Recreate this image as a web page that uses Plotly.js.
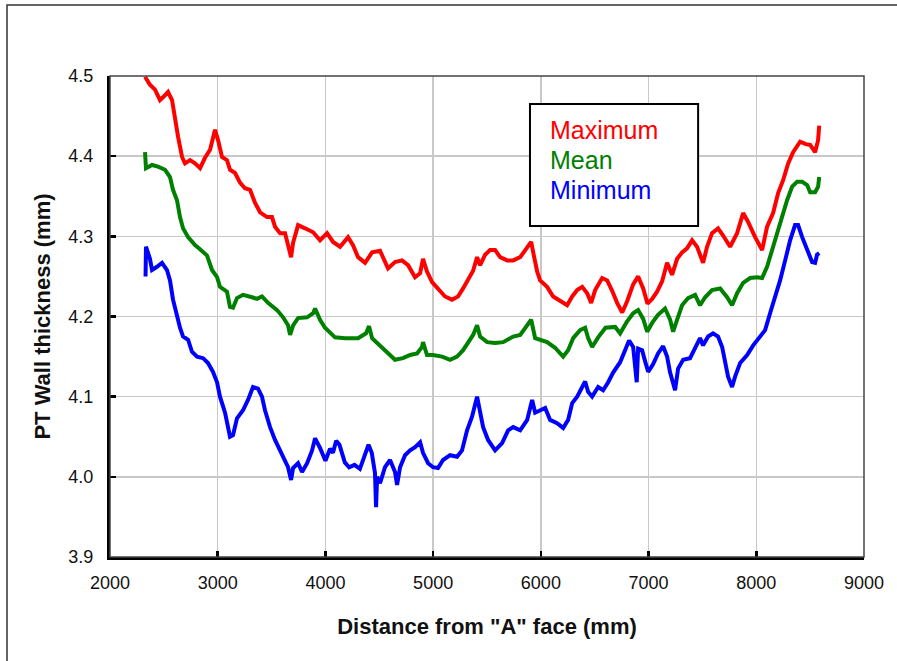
<!DOCTYPE html>
<html>
<head>
<meta charset="utf-8">
<script src="https://cdn.plot.ly/plotly-3.0.1.min.js"></script>
<style>
  html, body { margin: 0; padding: 0; background: #ffffff; }
  #chart { width: 897px; height: 661px; }
</style>
</head>
<body>
<div id="chart"></div>
<script>
// Pressure-tube wall thickness profile along the tube (mm)
const seriesNames = ["Maximum", "Mean", "Minimum"];
const seriesColors = ["#ff0000", "#008000", "#0000ff"];

const maxX = [2325, 2371, 2418, 2464, 2511, 2539, 2576, 2604, 2632, 2669, 2696, 2743, 2789, 2836, 2882, 2929, 2975, 3003, 3040, 3086,
  3114, 3161, 3207, 3253, 3300, 3346, 3393, 3458, 3504, 3532, 3579, 3625, 3643, 3681, 3700, 3746, 3811, 3886, 3950, 4015,
  4071, 4136, 4210, 4256, 4303, 4368, 4433, 4507, 4581, 4646, 4711, 4767, 4832, 4879, 4906, 4943, 4990, 5045, 5110, 5175,
  5231, 5278, 5324, 5371, 5408, 5436, 5482, 5529, 5575, 5622, 5687, 5743, 5808, 5873, 5910, 5938, 5966, 5993, 6058, 6114,
  6179, 6244, 6291, 6337, 6384, 6430, 6467, 6504, 6569, 6616, 6662, 6708, 6755, 6801, 6857, 6903, 6950, 6990, 7033, 7079,
  7126, 7172, 7218, 7265, 7311, 7357, 7404, 7450, 7506, 7543, 7589, 7645, 7692, 7757, 7822, 7878, 7924, 7989, 8054, 8100,
  8156, 8203, 8249, 8296, 8342, 8407, 8460, 8500, 8546, 8574, 8584];
const maxY = [4.499, 4.489, 4.483, 4.470, 4.476, 4.480, 4.470, 4.445, 4.424, 4.399, 4.391, 4.395, 4.391, 4.385, 4.398, 4.408, 4.433, 4.420, 4.399, 4.395,
  4.383, 4.379, 4.367, 4.360, 4.358, 4.342, 4.330, 4.324, 4.324, 4.312, 4.304, 4.304, 4.295, 4.274, 4.292, 4.314, 4.310, 4.305, 4.295, 4.304,
  4.293, 4.287, 4.299, 4.289, 4.274, 4.267, 4.280, 4.282, 4.260, 4.268, 4.270, 4.264, 4.249, 4.254, 4.272, 4.256, 4.243, 4.235, 4.225, 4.221,
  4.225, 4.235, 4.245, 4.257, 4.274, 4.264, 4.277, 4.283, 4.283, 4.274, 4.270, 4.270, 4.274, 4.285, 4.293, 4.274, 4.256, 4.245, 4.237, 4.225,
  4.219, 4.214, 4.225, 4.233, 4.237, 4.229, 4.217, 4.233, 4.248, 4.245, 4.232, 4.217, 4.205, 4.219, 4.240, 4.250, 4.235, 4.216, 4.222, 4.231,
  4.244, 4.267, 4.252, 4.272, 4.280, 4.285, 4.295, 4.287, 4.267, 4.287, 4.304, 4.310, 4.301, 4.287, 4.304, 4.329, 4.318, 4.299, 4.283, 4.312,
  4.329, 4.354, 4.370, 4.391, 4.405, 4.418, 4.415, 4.414, 4.405, 4.420, 4.438];

const meanX = [2325, 2334, 2390, 2446, 2511, 2557, 2585, 2622, 2650, 2678, 2725, 2789, 2836, 2901, 2947, 2994, 3021, 3086, 3114, 3142,
  3179, 3235, 3319, 3365, 3411, 3467, 3551, 3607, 3653, 3672, 3700, 3746, 3830, 3886, 3904, 3950, 3996, 4089, 4182, 4303,
  4377, 4405, 4433, 4507, 4581, 4646, 4720, 4786, 4851, 4897, 4906, 4943, 4999, 5083, 5157, 5222, 5278, 5324, 5371, 5408,
  5436, 5501, 5575, 5650, 5743, 5808, 5873, 5910, 5947, 5993, 6058, 6132, 6207, 6253, 6300, 6364, 6411, 6439, 6476, 6532,
  6600, 6690, 6736, 6801, 6857, 6903, 6950, 6987, 7033, 7088, 7153, 7200, 7228, 7265, 7311, 7367, 7432, 7478, 7525, 7589,
  7664, 7729, 7775, 7822, 7878, 7943, 8008, 8054, 8100, 8147, 8193, 8240, 8286, 8333, 8379, 8426, 8472, 8500, 8546, 8574, 8584];
const meanY = [4.405, 4.385, 4.389, 4.387, 4.383, 4.374, 4.358, 4.345, 4.324, 4.310, 4.299, 4.289, 4.284, 4.276, 4.258, 4.249, 4.237, 4.231, 4.212, 4.211,
  4.223, 4.227, 4.224, 4.222, 4.225, 4.217, 4.208, 4.199, 4.189, 4.177, 4.189, 4.198, 4.199, 4.204, 4.210, 4.196, 4.186, 4.174, 4.173, 4.173,
  4.179, 4.188, 4.173, 4.164, 4.154, 4.146, 4.148, 4.152, 4.154, 4.162, 4.168, 4.152, 4.152, 4.150, 4.146, 4.150, 4.158, 4.167, 4.177, 4.189,
  4.175, 4.168, 4.167, 4.168, 4.175, 4.177, 4.189, 4.196, 4.173, 4.171, 4.168, 4.161, 4.150, 4.158, 4.173, 4.183, 4.186, 4.173, 4.162, 4.174,
  4.186, 4.187, 4.179, 4.194, 4.204, 4.208, 4.197, 4.181, 4.192, 4.202, 4.210, 4.196, 4.181, 4.196, 4.214, 4.223, 4.227, 4.214, 4.224, 4.233,
  4.235, 4.224, 4.214, 4.229, 4.242, 4.248, 4.249, 4.248, 4.262, 4.283, 4.305, 4.327, 4.345, 4.362, 4.368, 4.368, 4.364, 4.355, 4.355, 4.362, 4.374];

const minX = [2330, 2334, 2371, 2390, 2436, 2483, 2529, 2557, 2585, 2622, 2650, 2678, 2725, 2761, 2808, 2864, 2910, 2956, 2994, 3021,
  3068, 3114, 3142, 3179, 3235, 3281, 3328, 3374, 3411, 3439, 3486, 3532, 3579, 3625, 3653, 3681, 3700, 3746, 3783, 3830,
  3876, 3904, 3950, 4000, 4043, 4070, 4100, 4130, 4180, 4220, 4270, 4320, 4360, 4400, 4430, 4460, 4470, 4480, 4507, 4553,
  4600, 4646, 4665, 4693, 4739, 4786, 4832, 4879, 4906, 4953, 4999, 5045, 5092, 5157, 5222, 5268, 5315, 5361, 5408, 5436,
  5464, 5510, 5575, 5640, 5696, 5743, 5808, 5873, 5919, 5947, 5993, 6040, 6086, 6151, 6207, 6253, 6291, 6337, 6384, 6411,
  6439, 6476, 6532, 6578, 6625, 6671, 6736, 6782, 6819, 6857, 6890, 6903, 6940, 6968, 6996, 7040, 7088, 7135, 7172, 7200,
  7246, 7274, 7321, 7385, 7432, 7478, 7506, 7553, 7599, 7645, 7683, 7711, 7738, 7775, 7803, 7850, 7915, 7971, 8036, 8082,
  8128, 8175, 8221, 8268, 8314, 8360, 8388, 8426, 8472, 8518, 8546, 8564, 8584];
const minY = [4.250, 4.287, 4.272, 4.258, 4.262, 4.267, 4.258, 4.245, 4.221, 4.199, 4.186, 4.175, 4.171, 4.156, 4.150, 4.148, 4.142, 4.131, 4.118, 4.100,
  4.080, 4.050, 4.052, 4.073, 4.083, 4.096, 4.112, 4.110, 4.100, 4.083, 4.062, 4.046, 4.033, 4.021, 4.012, 3.996, 4.011, 4.017, 4.006, 4.017,
  4.033, 4.048, 4.036, 4.020, 4.035, 4.030, 4.045, 4.040, 4.018, 4.012, 4.015, 4.010, 4.025, 4.040, 4.030, 4.005, 3.962, 4.000, 3.992, 4.012,
  4.021, 4.006, 3.990, 4.012, 4.027, 4.033, 4.037, 4.043, 4.030, 4.017, 4.012, 4.011, 4.021, 4.027, 4.025, 4.033, 4.058, 4.075, 4.100, 4.083,
  4.062, 4.046, 4.033, 4.042, 4.058, 4.062, 4.058, 4.071, 4.096, 4.080, 4.083, 4.086, 4.071, 4.067, 4.061, 4.071, 4.092, 4.100, 4.112, 4.119,
  4.106, 4.100, 4.112, 4.108, 4.118, 4.130, 4.143, 4.158, 4.170, 4.162, 4.118, 4.160, 4.158, 4.144, 4.131, 4.140, 4.154, 4.163, 4.150, 4.130,
  4.108, 4.135, 4.146, 4.148, 4.162, 4.173, 4.164, 4.175, 4.179, 4.175, 4.162, 4.142, 4.125, 4.112, 4.125, 4.142, 4.152, 4.164, 4.175, 4.183,
  4.204, 4.224, 4.245, 4.270, 4.295, 4.314, 4.314, 4.299, 4.283, 4.268, 4.267, 4.277, 4.279];

const xTitle = 'Distance from "A" face (mm)';
const yTitle = 'PT Wall thickness (mm)';

const FONT = '"Liberation Sans", Arial, sans-serif';

const xs = [maxX, meanX, minX];
const ys = [maxY, meanY, minY];

const traces = seriesNames.map((name, i) => ({
  type: 'scatter',
  mode: 'lines',
  name: name,
  x: xs[i],
  y: ys[i],
  line: { color: seriesColors[i], width: 4 },
  showlegend: false,
  hoverinfo: 'skip'
}));

// Paper coordinates for the plain text key box
const keyBox = { x0: 0.557, x1: 0.78, y0: 0.688, y1: 0.942 };
const keyTextX = 0.581;
const keyTextY = [0.888, 0.825, 0.763];

const annotations = seriesNames.map((name, i) => ({
  xref: 'paper', yref: 'paper',
  x: keyTextX, y: keyTextY[i],
  xanchor: 'left', yanchor: 'middle',
  text: name,
  showarrow: false,
  font: { family: FONT, size: 25, color: seriesColors[i] }
}));

const shapes = [
  // thin top/right edges of the plotting area
  { type: 'rect', xref: 'paper', yref: 'paper', x0: 0, x1: 1, y0: 0, y1: 1,
    line: { color: '#444444', width: 1.5 }, layer: 'above' },
  // key box
  { type: 'rect', xref: 'paper', yref: 'paper', x0: keyBox.x0, x1: keyBox.x1, y0: keyBox.y0, y1: keyBox.y1,
    fillcolor: '#ffffff', line: { color: '#000000', width: 2 }, layer: 'above' },
  // outer frame of the figure
  { type: 'path', xref: 'paper', yref: 'paper',
    path: 'M -0.1366 -0.3 L -0.1366 1.1476 L 1.2 1.1476',
    line: { color: '#333333', width: 1.5 }, layer: 'above' }
];

const layout = {
  width: 897,
  height: 661,
  margin: { l: 110, r: 33, t: 76, b: 104, pad: 0 },
  paper_bgcolor: '#ffffff',
  plot_bgcolor: '#ffffff',
  font: { family: FONT, color: '#111111' },
  showlegend: false,
  xaxis: {
    range: [2000, 9000],
    tick0: 2000, dtick: 1000,
    showgrid: true, gridcolor: '#c8c8c8', gridwidth: 1.5,
    zeroline: false,
    showline: true, linecolor: '#000000', linewidth: 3,
    ticks: 'inside', ticklen: 6, tickwidth: 2.5, tickcolor: '#000000',
    ticklabelstandoff: 7,
    tickfont: { family: FONT, size: 18, color: '#111111' },
    title: { text: xTitle, font: { family: FONT, size: 22, weight: 'bold', color: '#111111' }, standoff: 28 },
    automargin: false
  },
  yaxis: {
    range: [3.9, 4.5],
    tick0: 3.9, dtick: 0.1,
    tickformat: '.1f',
    showgrid: true, gridcolor: '#c8c8c8', gridwidth: 1.5,
    zeroline: false,
    showline: true, linecolor: '#000000', linewidth: 3,
    ticks: 'inside', ticklen: 6, tickwidth: 2.5, tickcolor: '#000000',
    ticklabelstandoff: 10,
    tickfont: { family: FONT, size: 18, color: '#111111' },
    title: { text: yTitle, font: { family: FONT, size: 22, weight: 'bold', color: '#111111' }, standoff: 12 },
    automargin: false
  },
  shapes: shapes,
  annotations: annotations
};

Plotly.newPlot('chart', traces, layout, { displayModeBar: false, staticPlot: true });
</script>
</body>
</html>
